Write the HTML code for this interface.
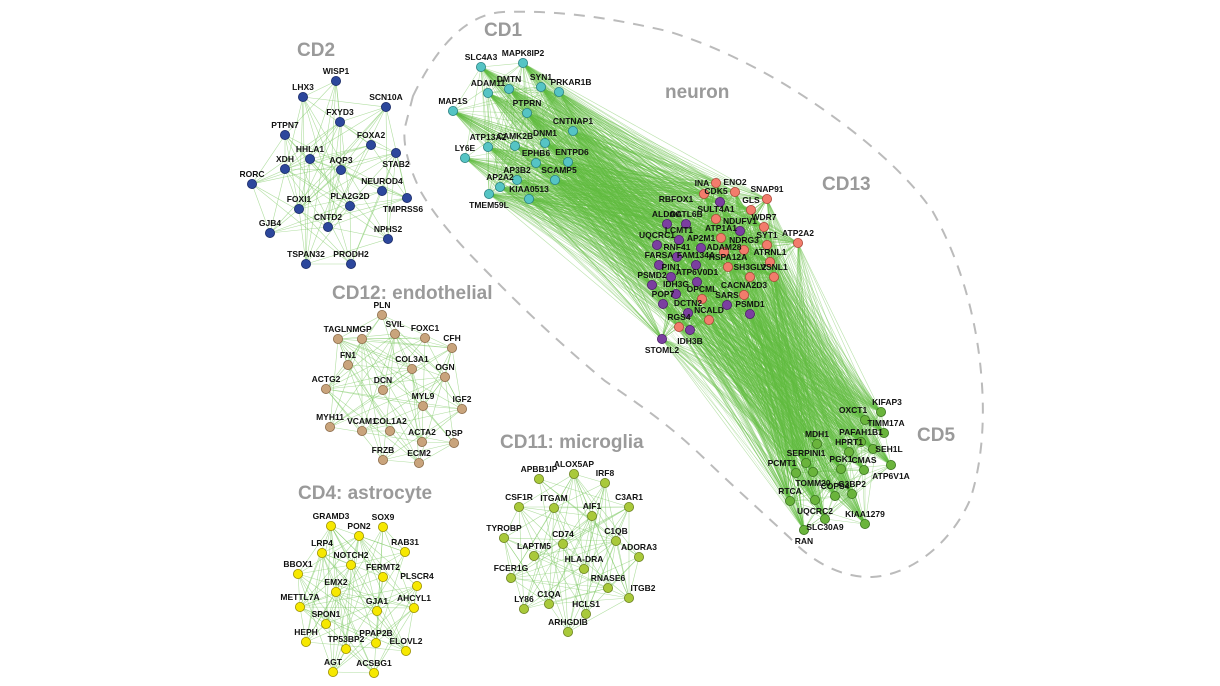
<!DOCTYPE html>
<html><head><meta charset="utf-8">
<style>
html,body{margin:0;padding:0;background:#fff;}
svg{display:block;}
.t{font-family:"Liberation Sans",sans-serif;font-weight:bold;fill:#9a9a9a;font-size:19px;}
text.n{font-family:"Liberation Sans",sans-serif;font-weight:bold;font-size:8.5px;fill:#111;text-anchor:middle;}
</style></head><body>
<svg id="s" width="1220" height="686" viewBox="0 0 1220 686" xmlns="http://www.w3.org/2000/svg">
<path d="M413,96 C440,40 470,14 503,12 C560,10 610,18 667,31 C730,50 790,85 831,115 C880,150 915,185 933,212 C960,260 978,320 982,385 C985,430 980,470 970,500 C950,545 910,575 872,577 C840,578 810,560 790,538 C760,510 735,488 708,462 C670,425 640,405 605,381 C570,352 535,320 503,288 C470,255 440,225 421,192 C410,170 402,145 405,127 Z" fill="none" stroke="#bbbbbb" stroke-width="2" stroke-dasharray="11 9"/>
<g id="edges"></g>
<g id="nodes"></g>
<g id="labels">
<text class="t" x="297" y="56">CD2</text>
<text class="t" x="484" y="36">CD1</text>
<text class="t" x="665" y="98">neuron</text>
<text class="t" x="822" y="190">CD13</text>
<text class="t" x="332" y="299">CD12: endothelial</text>
<text class="t" x="298" y="499">CD4: astrocyte</text>
<text class="t" x="500" y="448">CD11: microglia</text>
<text class="t" x="917" y="441">CD5</text>

<!-- CD2 -->
<text class="n c2" x="336" y="81">WISP1</text>
<text class="n c2" x="303" y="97">LHX3</text>
<text class="n c2" x="386" y="107">SCN10A</text>
<text class="n c2" x="340" y="122">FXYD3</text>
<text class="n c2" x="285" y="135">PTPN7</text>
<text class="n c2" x="371" y="145">FOXA2</text>
<text class="n c2" x="396" y="153" dy="14">STAB2</text>
<text class="n c2" x="310" y="159">HHLA1</text>
<text class="n c2" x="285" y="169">XDH</text>
<text class="n c2" x="341" y="170">AQP3</text>
<text class="n c2" x="252" y="184">RORC</text>
<text class="n c2" x="382" y="191">NEUROD4</text>
<text class="n c2" x="407" y="198" dy="14" dx="-4">TMPRSS6</text>
<text class="n c2" x="299" y="209">FOXI1</text>
<text class="n c2" x="350" y="206">PLA2G2D</text>
<text class="n c2" x="328" y="227">CNTD2</text>
<text class="n c2" x="270" y="233">GJB4</text>
<text class="n c2" x="388" y="239">NPHS2</text>
<text class="n c2" x="306" y="264">TSPAN32</text>
<text class="n c2" x="351" y="264">PRODH2</text>

<!-- CD1 -->
<text class="n c1" x="481" y="67">SLC4A3</text>
<text class="n c1" x="523" y="63">MAPK8IP2</text>
<text class="n c1" x="509" y="89">DMTN</text>
<text class="n c1" x="541" y="87">SYN1</text>
<text class="n c1" x="559" y="92" dx="12">PRKAR1B</text>
<text class="n c1" x="488" y="93">ADAM11</text>
<text class="n c1" x="453" y="111">MAP1S</text>
<text class="n c1" x="527" y="113">PTPRN</text>
<text class="n c1" x="573" y="131">CNTNAP1</text>
<text class="n c1" x="488" y="147">ATP13A2</text>
<text class="n c1" x="515" y="146">CAMK2B</text>
<text class="n c1" x="545" y="143">DNM1</text>
<text class="n c1" x="465" y="158">LY6E</text>
<text class="n c1" x="536" y="163">EPHB6</text>
<text class="n c1" x="568" y="162" dx="4">ENTPD6</text>
<text class="n c1" x="517" y="180">AP3B2</text>
<text class="n c1" x="555" y="180" dx="4">SCAMP5</text>
<text class="n c1" x="500" y="187">AP2A2</text>
<text class="n c1" x="489" y="194" dy="14">TMEM59L</text>
<text class="n c1" x="529" y="199">KIAA0513</text>

<!-- CD13 pink / purple -->
<text class="n pk" x="716" y="183" dx="-14" dy="3">INA</text>
<text class="n pk" x="735" y="192">ENO2</text>
<text class="n pk" x="704" y="194" dx="-28" dy="8">RBFOX1</text>
<text class="n pp" x="720" y="202" dx="-4" dy="-8">CDK5</text>
<text class="n pk" x="767" y="199">SNAP91</text>
<text class="n pk" x="751" y="210">GLS</text>
<text class="n pk" x="716" y="219">SULT4A1</text>
<text class="n pp" x="667" y="224">ALDOA</text>
<text class="n pp" x="686" y="224">ACTL6B</text>
<text class="n pp" x="740" y="231">NDUFV1</text>
<text class="n pk" x="764" y="227">WDR7</text>
<text class="n pp" x="679" y="240">LCMT1</text>
<text class="n pk" x="721" y="238">ATP1A1</text>
<text class="n pp" x="657" y="245">UQCRC1</text>
<text class="n pk" x="767" y="245">SYT1</text>
<text class="n pk" x="798" y="243">ATP2A2</text>
<text class="n pp" x="701" y="248">AP2M1</text>
<text class="n pk" x="724" y="252" dy="-2">ADAM28</text>
<text class="n pk" x="744" y="250">NDRG3</text>
<text class="n pp" x="677" y="257">RNF41</text>
<text class="n pp" x="659" y="265">FARSA</text>
<text class="n pp" x="696" y="265">FAM134A</text>
<text class="n pk" x="728" y="267">HSPA12A</text>
<text class="n pk" x="770" y="262">ATRNL1</text>
<text class="n pp" x="671" y="277">PIN1</text>
<text class="n pp" x="697" y="282">ATP6V0D1</text>
<text class="n pk" x="750" y="277">SH3GL2</text>
<text class="n pk" x="774" y="277">VSNL1</text>
<text class="n pp" x="652" y="285">PSMD2</text>
<text class="n pp" x="676" y="294">IDH3G</text>
<text class="n pk" x="702" y="299">OPCML</text>
<text class="n pk" x="744" y="295">CACNA2D3</text>
<text class="n pp" x="663" y="304">POP7</text>
<text class="n pp" x="727" y="305">SARS</text>
<text class="n pp" x="688" y="313">DCTN2</text>
<text class="n pp" x="750" y="314">PSMD1</text>
<text class="n pk" x="709" y="320">NCALD</text>
<text class="n pk" x="679" y="327">RGS4</text>
<text class="n pp" x="690" y="330" dy="14">IDH3B</text>
<text class="n pp" x="662" y="339" dy="14">STOML2</text>

<!-- CD5 -->
<text class="n c5" x="881" y="412" dx="6">KIFAP3</text>
<text class="n c5" x="865" y="420" dx="-12">OXCT1</text>
<text class="n c5" x="884" y="433" dx="2">TIMM17A</text>
<text class="n c5" x="861" y="442">PAFAH1B1</text>
<text class="n c5" x="817" y="444">MDH1</text>
<text class="n c5" x="873" y="449" dx="16" dy="3">SEH1L</text>
<text class="n c5" x="849" y="452">HPRT1</text>
<text class="n c5" x="806" y="463">SERPINI1</text>
<text class="n c5" x="891" y="465" dy="14">ATP6V1A</text>
<text class="n c5" x="841" y="469">PGK1</text>
<text class="n c5" x="864" y="470">CMAS</text>
<text class="n c5" x="796" y="473" dx="-14">PCMT1</text>
<text class="n c5" x="813" y="472" dy="14">TOMM20</text>
<text class="n c5" x="835" y="496">COPS4</text>
<text class="n c5" x="852" y="494">G3BP2</text>
<text class="n c5" x="790" y="501">RTCA</text>
<text class="n c5" x="815" y="500" dy="14">UQCRC2</text>
<text class="n c5" x="825" y="519" dy="11">SLC30A9</text>
<text class="n c5" x="865" y="524">KIAA1279</text>
<text class="n c5" x="804" y="530" dy="14">RAN</text>

<!-- CD12 -->
<text class="n c12" x="382" y="315">PLN</text>
<text class="n c12" x="338" y="339">TAGLN</text>
<text class="n c12" x="362" y="339">MGP</text>
<text class="n c12" x="395" y="334">SVIL</text>
<text class="n c12" x="425" y="338">FOXC1</text>
<text class="n c12" x="452" y="348">CFH</text>
<text class="n c12" x="348" y="365">FN1</text>
<text class="n c12" x="412" y="369">COL3A1</text>
<text class="n c12" x="445" y="377">OGN</text>
<text class="n c12" x="326" y="389">ACTG2</text>
<text class="n c12" x="383" y="390">DCN</text>
<text class="n c12" x="423" y="406">MYL9</text>
<text class="n c12" x="462" y="409">IGF2</text>
<text class="n c12" x="330" y="427">MYH11</text>
<text class="n c12" x="362" y="431">VCAM1</text>
<text class="n c12" x="390" y="431">COL1A2</text>
<text class="n c12" x="422" y="442">ACTA2</text>
<text class="n c12" x="454" y="443">DSP</text>
<text class="n c12" x="383" y="460">FRZB</text>
<text class="n c12" x="419" y="463">ECM2</text>

<!-- CD4 -->
<text class="n c4" x="331" y="526">GRAMD3</text>
<text class="n c4" x="383" y="527">SOX9</text>
<text class="n c4" x="359" y="536">PON2</text>
<text class="n c4" x="322" y="553">LRP4</text>
<text class="n c4" x="405" y="552">RAB31</text>
<text class="n c4" x="351" y="565">NOTCH2</text>
<text class="n c4" x="298" y="574">BBOX1</text>
<text class="n c4" x="383" y="577">FERMT2</text>
<text class="n c4" x="417" y="586">PLSCR4</text>
<text class="n c4" x="336" y="592">EMX2</text>
<text class="n c4" x="300" y="607">METTL7A</text>
<text class="n c4" x="377" y="611">GJA1</text>
<text class="n c4" x="414" y="608">AHCYL1</text>
<text class="n c4" x="326" y="624">SPON1</text>
<text class="n c4" x="306" y="642">HEPH</text>
<text class="n c4" x="346" y="649">TP53BP2</text>
<text class="n c4" x="376" y="643">PPAP2B</text>
<text class="n c4" x="406" y="651">ELOVL2</text>
<text class="n c4" x="333" y="672">AGT</text>
<text class="n c4" x="374" y="673">ACSBG1</text>

<!-- CD11 -->
<text class="n c11" x="539" y="479">APBB1IP</text>
<text class="n c11" x="574" y="474">ALOX5AP</text>
<text class="n c11" x="605" y="483">IRF8</text>
<text class="n c11" x="519" y="507">CSF1R</text>
<text class="n c11" x="554" y="508">ITGAM</text>
<text class="n c11" x="592" y="516">AIF1</text>
<text class="n c11" x="629" y="507">C3AR1</text>
<text class="n c11" x="504" y="538">TYROBP</text>
<text class="n c11" x="563" y="544">CD74</text>
<text class="n c11" x="616" y="541">C1QB</text>
<text class="n c11" x="639" y="557">ADORA3</text>
<text class="n c11" x="534" y="556">LAPTM5</text>
<text class="n c11" x="584" y="569">HLA-DRA</text>
<text class="n c11" x="511" y="578">FCER1G</text>
<text class="n c11" x="608" y="588">RNASE6</text>
<text class="n c11" x="629" y="598" dx="14">ITGB2</text>
<text class="n c11" x="549" y="604">C1QA</text>
<text class="n c11" x="524" y="609">LY86</text>
<text class="n c11" x="586" y="614">HCLS1</text>
<text class="n c11" x="568" y="632">ARHGDIB</text>
</g>
</svg>
<script>
(function(){
var NS="http://www.w3.org/2000/svg";
var col={c2:["#2c479c","#1a2a66"],c1:["#55c4c4","#2a7f80"],pk:["#f27c6c","#a84838"],pp:["#7b3fa0","#4a2066"],c5:["#6ab43c","#3a7420"],c12:["#c9a47c","#8a6a48"],c4:["#f6e800","#9a8f00"],c11:["#a9c93a","#6a8020"]};
var groups={};
var ts=document.querySelectorAll("text.n");
var nodes=document.getElementById("nodes"),edges=document.getElementById("edges");
ts.forEach(function(t){
  var c=t.getAttribute("class").split(" ")[1];
  var x=+t.getAttribute("x"),y=+t.getAttribute("y");
  (groups[c]=groups[c]||[]).push([x,y]);
  var ci=document.createElementNS(NS,"circle");
  ci.setAttribute("cx",x);ci.setAttribute("cy",y);ci.setAttribute("r",4.6);
  ci.setAttribute("fill",col[c][0]);ci.setAttribute("stroke",col[c][1]);ci.setAttribute("stroke-width",0.8);
  nodes.appendChild(ci);
  if(!t.hasAttribute("dy"))t.setAttribute("dy",-7);
});
var seed=7;function r(){seed=(seed*16807)%2147483647;return seed/2147483647;}
var p=[];
function L(a,b,c,o,w){p.push('<line x1="'+a[0]+'" y1="'+a[1]+'" x2="'+b[0]+'" y2="'+b[1]+'" stroke="'+c+'" stroke-opacity="'+o+'" stroke-width="'+w+'"/>');}
["c2","c12","c4","c11"].forEach(function(g){var a=groups[g];
  for(var i=0;i<a.length;i++)for(var j=i+1;j<a.length;j++)if(r()<0.5)L(a[i],a[j],"#7cc860",0.6,0.6);});
var c1=groups.c1,c13=groups.pk.concat(groups.pp),c5=groups.c5;
for(var i=0;i<c1.length;i++)for(var j=i+1;j<c1.length;j++)if(r()<0.5)L(c1[i],c1[j],"#7cc860",0.55,0.6);
for(var i=0;i<c5.length;i++)for(var j=i+1;j<c5.length;j++)if(r()<0.5)L(c5[i],c5[j],"#7cc860",0.55,0.6);
for(var i=0;i<c13.length;i++)for(var j=i+1;j<c13.length;j++)if(r()<0.4)L(c13[i],c13[j],"#66bb44",0.55,0.6);
c1.forEach(function(a){c13.forEach(function(b){if(r()<0.85)L(a,b,"#62bd40",0.45,0.6);});});
c13.forEach(function(a){c5.forEach(function(b){if(r()<0.9)L(a,b,"#62bd40",0.45,0.6);});});
c1.forEach(function(a){c5.forEach(function(b){if(r()<0.15)L(a,b,"#62bd40",0.35,0.5);});});
edges.innerHTML=p.join("");
})();
</script>
</body></html>
